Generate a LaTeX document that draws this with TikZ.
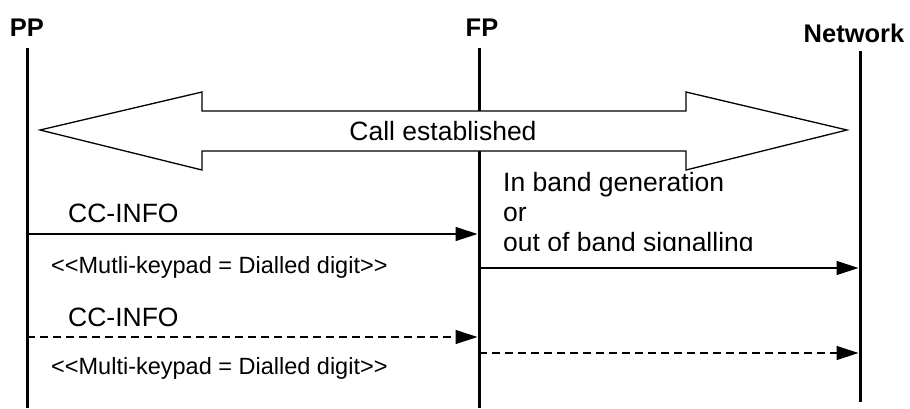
\documentclass[tikz,border=0pt]{standalone}
\usepackage{fontspec}
\setmainfont{Liberation Sans}
\usepackage{tikz}
\usetikzlibrary{arrows.meta}

\begin{document}
\begin{tikzpicture}[x=1pt,y=-1pt,
  actor/.style={font=\fontsize{25.5}{30}\selectfont\bfseries,inner sep=0pt},
  life/.style={line width=3pt},
  msg/.style={-{Triangle[length=22pt,width=14pt]},line width=1.2pt},
  lbl/.style={font=\fontsize{26.5}{30}\selectfont,inner sep=0pt,anchor=west,align=left},
  ie/.style={font=\fontsize{23.5}{28}\selectfont,inner sep=0pt,anchor=west}]
\useasboundingbox (0,0) rectangle (910,408);
% entities
\node[actor] (pp) at (27,28) {PP};
\node[actor] (fp) at (482,28) {FP};
\node[actor] (nw) at (854,33) {Network};
\coordinate (pp-top) at (27,48);  \coordinate (pp-bot) at (27,408);
\coordinate (fp-top) at (479,48); \coordinate (fp-bot) at (479,408);
\coordinate (nw-top) at (860,51); \coordinate (nw-bot) at (860,402);
\foreach \x in {pp,fp,nw}\draw[life] (\x-top) -- (\x-bot);
% call established
\draw[line width=1.3pt,fill=white] (40,130) -- (202,92) -- (202,111) -- (686,111) -- (686,92)
  -- (847,130) -- (686,170) -- (686,151) -- (202,151) -- (202,170) -- cycle;
\node[font=\fontsize{26.5}{30}\selectfont,inner sep=0pt] (call) at (443,131) {Call established};
% messages
\coordinate (m1a) at (27,234);  \coordinate (m1b) at (477.5,234);
\coordinate (m2a) at (479,268); \coordinate (m2b) at (858.5,268);
\coordinate (m3a) at (27,337);  \coordinate (m3b) at (477.5,337);
\coordinate (m4a) at (479,353); \coordinate (m4b) at (858.5,353);
\draw[msg] (m1a) -- (m1b);
\draw[msg] (m2a) -- (m2b);
\draw[msg,dash pattern=on 8pt off 5pt] (m3a) -- (m3b);
\draw[msg,dash pattern=on 8pt off 5pt] (m4a) -- (m4b);
\node[lbl] (info1) at (68,213) {CC-INFO};
\node[ie] (key1) at (51,267) {<{}<Mutli-keypad = Dialled digit>{}>};
\node[lbl] (info2) at (68,317) {CC-INFO};
\node[ie] (key2) at (51,368) {<{}<Multi-keypad = Dialled digit>{}>};
\begin{scope}
\clip (485,160) rectangle (800,250);
\node[lbl] (band) at (503,215) {In band generation\\or\\out of band signalling};
\end{scope}
\end{tikzpicture}
\end{document}
